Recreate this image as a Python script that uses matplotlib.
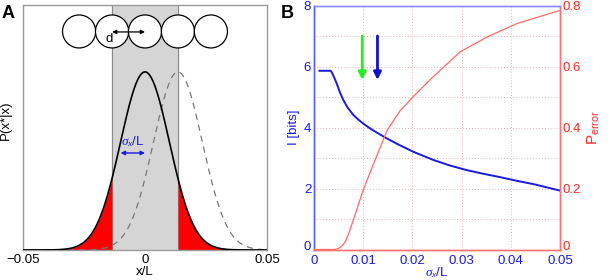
import numpy as np
import matplotlib
matplotlib.use("Agg")
import matplotlib.pyplot as plt
from matplotlib.patches import Ellipse
from matplotlib.transforms import ScaledTranslation

plt.rcParams['font.family'] = ['Liberation Sans', 'DejaVu Sans']
plt.rcParams['mathtext.fontset'] = 'custom'
plt.rcParams['mathtext.rm'] = 'Liberation Sans'
plt.rcParams['mathtext.it'] = 'Liberation Serif:italic'
plt.rcParams['mathtext.sf'] = 'Liberation Sans'

# ---- Panel A parameters ----
a_xticks = [-0.05, 0, 0.05]
a_xticklabels = ['\u22120.05', '0', '0.05']
spacing_d = 0.0135          # cell spacing d (x/L)
sigma_a = 0.0100            # positional noise sigma_x/L
peak_a = 0.727              # peak height of P(x*|x)
circle_centers = [-2, -1, 0, 1, 2]   # in units of d

# ---- Panel B data ----
sig_info = [0.0011, 0.0034, 0.0037, 0.0041, 0.0046, 0.0052, 0.0059, 0.0068,
            0.0080, 0.0090, 0.0100, 0.0113, 0.0127, 0.0145, 0.0168, 0.0201,
            0.0242, 0.0275, 0.0311, 0.0345, 0.0379, 0.0413, 0.0447, 0.0475,
            0.0500]
info_bits = [5.86, 5.86, 5.78, 5.64, 5.45, 5.18, 4.92, 4.66,
             4.41, 4.26, 4.13, 3.98, 3.84, 3.67, 3.47, 3.21,
             2.94, 2.76, 2.60, 2.48, 2.37, 2.25, 2.14, 2.03,
             1.93]
sig_perr = [0.0, 0.0043, 0.0050, 0.0055, 0.0060, 0.0065, 0.0070, 0.0080,
            0.0100, 0.0124, 0.0149, 0.0175, 0.0201, 0.0242, 0.0297, 0.0352,
            0.0413, 0.0500]
p_error = [0.0, 0.0, 0.004, 0.009, 0.017, 0.030, 0.050, 0.097,
           0.195, 0.293, 0.392, 0.455, 0.500, 0.566, 0.648, 0.697,
           0.741, 0.784]
b_xticks = [0, 0.01, 0.02, 0.03, 0.04, 0.05]
b_xticklabels = ['0', '0.01', '0.02', '0.03', '0.04', '0.05']
b_yticks = [0, 2, 4, 6, 8]
b_y2ticks = [0, 0.2, 0.4, 0.6, 0.8]
arrow_green_x = 0.0098
arrow_blue_x = 0.0129
arrow_top, arrow_bottom = 7.0, 5.56

W, H = 610, 280
fig = plt.figure(figsize=(W / 100, H / 100), dpi=100)

FS = 9.5
BLUE = '#1a1adc'
RED = '#ff2a2a'

# ================= Panel A =================
axA = fig.add_axes([23 / W, 30 / H, 244 / W, 245 / H])
axA.set_xlim(-0.05, 0.05)
axA.set_ylim(0, 1)
x = np.linspace(-0.05, 0.05, 800)
g = peak_a * np.exp(-x ** 2 / (2 * sigma_a ** 2))
g_shift = peak_a * np.exp(-(x - spacing_d) ** 2 / (2 * sigma_a ** 2))

axA.axvspan(-spacing_d, spacing_d, color='#d5d5d5', zorder=0)
axA.axvline(-spacing_d, color='#8a8a8a', lw=0.8, zorder=1)
axA.axvline(spacing_d, color='#8a8a8a', lw=0.8, zorder=1)
axA.fill_between(x, 0, g, where=(x <= -spacing_d), color='#ff0000', lw=0, zorder=2)
axA.fill_between(x, 0, g, where=(x >= spacing_d), color='#ff0000', lw=0, zorder=2)
axA.plot(x, g_shift, color='#777777', lw=0.9, ls=(0, (5, 4)), zorder=3)
axA.plot(x, g, color='black', lw=1.2, zorder=4)

# circles
rx = 0.0068
ry = 16.5 / 245
for c in circle_centers:
    axA.add_patch(Ellipse((c * spacing_d, 0.892), 2 * rx, 2 * ry,
                          facecolor='white', edgecolor='black', lw=0.9, zorder=5))
axA.annotate('', xy=(0.0, 0.89), xytext=(-spacing_d, 0.89),
             arrowprops=dict(arrowstyle='<|-|>', color='black', lw=0.9,
                             mutation_scale=6, shrinkA=0, shrinkB=0), zorder=6)
axA.text(-0.0148, 0.86, 'd', fontsize=FS, ha='center', va='center', zorder=6)

axA.annotate('', xy=(0.0, 0.396), xytext=(-sigma_a, 0.396),
             arrowprops=dict(arrowstyle='<|-|>', color=BLUE, lw=1.0,
                             mutation_scale=6, shrinkA=0, shrinkB=0), zorder=6)
axA.text(-0.0050, 0.442, r'$\sigma_x$/L', color=BLUE, fontsize=FS,
         ha='center', va='center', zorder=6)

axA.set_xticks(a_xticks)
axA.set_xticklabels(a_xticklabels, fontsize=FS)
axA.set_yticks([])
axA.tick_params(length=0, pad=3)
for s in axA.spines.values():
    s.set_color('#9a9a9a')
    s.set_linewidth(1.0)
axA.set_xlabel('x/L', fontsize=FS, labelpad=0)
axA.set_ylabel('P(x*|x)', fontsize=FS, labelpad=4)
axA.yaxis.set_label_coords(-0.045, 0.53)
fig.text(2 / W, 1 - 13 / H, 'A', fontsize=13, fontweight='bold', va='center')

# ================= Panel B =================
axB = fig.add_axes([314 / W, 30.5 / H, 246 / W, 244 / H])
axB.set_xlim(0, 0.05)
axB.set_ylim(0, 8)
axB.set_xticks(b_xticks)
axB.set_xticklabels(b_xticklabels, fontsize=FS, color=BLUE)
axB.set_yticks(b_yticks)
axB.set_yticklabels([str(v) for v in b_yticks], fontsize=FS, color=BLUE)
axB.set_yticks([1, 3, 5, 7], minor=True)
axB.grid(True, which='both', ls=(0, (1, 2)), color='#e3b8b8', lw=0.7)
axB.tick_params(which='both', length=0, pad=2)
axB.tick_params(axis='x', pad=4)
axB.plot(sig_info, info_bits, color=BLUE, lw=1.4, zorder=4)
axB.set_ylabel('I [bits]', color=BLUE, fontsize=FS, labelpad=3)
axB.set_xlabel(r'$\sigma_x$/L', color=BLUE, fontsize=FS, labelpad=-1.5)

ax2 = axB.twinx()
ax2.set_ylim(0, 0.8)
ax2.set_yticks(b_y2ticks)
ax2.set_yticklabels(['0', '0.2', '0.4', '0.6', '0.8'], fontsize=FS, color=RED)
ax2.tick_params(length=0, pad=2)
ax2.plot(sig_perr, p_error, color='#ff6a6a', lw=0.9, zorder=3)
ax2.set_ylabel(r'$\mathregular{P_{error}}$', color=RED, fontsize=FS + 1.5, labelpad=3)

# lift the two "0" y-labels a little, as in the reference
for lab in (axB.get_yticklabels()[0], ax2.get_yticklabels()[0]):
    lab.set_transform(lab.get_transform() +
                      ScaledTranslation(0, 4 / 100, fig.dpi_scale_trans))

for ax in (axB, ax2):
    ax.spines['left'].set_color('#5a5aff')
    ax.spines['top'].set_color('#8a8aff')
    ax.spines['bottom'].set_color('#ff7070')
    ax.spines['right'].set_color('#ff7070')
    for s in ax.spines.values():
        s.set_linewidth(1.0)

for xa, col in ((arrow_green_x, '#22ee22'), (arrow_blue_x, '#1010cc')):
    axB.annotate('', xy=(xa, arrow_bottom), xytext=(xa, arrow_top),
                 arrowprops=dict(arrowstyle='-|>', color=col, lw=2.0,
                                 mutation_scale=11, shrinkA=0, shrinkB=0),
                 zorder=6)

fig.text(281 / W, 1 - 13 / H, 'B', fontsize=13, fontweight='bold', va='center')

fig.savefig('out.png', dpi=100)
